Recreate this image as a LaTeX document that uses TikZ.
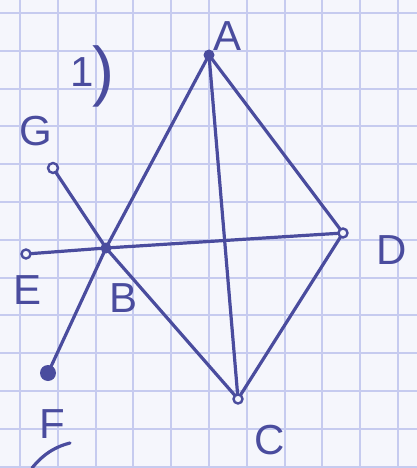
\documentclass[tikz,border=0pt]{standalone}
\usepackage{fontspec}
\setmainfont{Liberation Sans}
\definecolor{paper}{HTML}{F5F6FC}
\definecolor{gridc}{HTML}{C6CBEF}
\definecolor{pen}{HTML}{4A4C9E}
\begin{document}
\begin{tikzpicture}[x=1pt,y=-1pt,
  edge/.style={pen,line width=3.2pt,line cap=round},
  opendot/.style={circle,draw=pen,line width=2.4pt,fill=paper,inner sep=0pt,minimum size=8pt},
  fulldot/.style={circle,fill=pen,inner sep=0pt,minimum size=8pt},
  lbl/.style={text=pen,font=\fontsize{42}{42}\selectfont,inner sep=0pt}]
\fill[paper] (0,0) rectangle (417,468);
\useasboundingbox (0,0) rectangle (417,468);
\foreach \i in {0,...,10} \draw[gridc,line width=2pt] ({20+37.8*\i},0) -- ({20+37.8*\i},468);
\foreach \j in {0,...,12} \draw[gridc,line width=2pt] (0,{13+37.8*\j}) -- (417,{13+37.8*\j});
% points
\coordinate (A) at (209,55);
\coordinate (B) at (106,248);
\coordinate (C) at (238,399);
\coordinate (D) at (343,233);
\coordinate (E) at (26,254);
\coordinate (G) at (53,168);
\coordinate (F) at (48,373);
% edges
\draw[edge] (A) -- (B);
\draw[edge] (A) -- (C);
\draw[edge] (A) -- (D);
\draw[edge] (B) -- (D);
\draw[edge] (B) -- (C);
\draw[edge] (D) -- (C);
\draw[edge] (G) -- (B);
\draw[edge] (E) -- (B);
\draw[edge] (F) -- (B);
% dots
\node[fulldot,minimum size=11pt] (nA) at (A) {};
\node[fulldot,minimum size=11pt] (nB) at (B) {};
\node[opendot,minimum size=9pt] (nC) at (C) {};
\node[opendot,minimum size=9pt] (nD) at (D) {};
\node[opendot,minimum size=9pt] (nE) at (E) {};
\node[opendot,minimum size=10pt] (nG) at (G) {};
\node[fulldot,minimum size=16pt] (nF) at (F) {};
% labels
\node[lbl] (lA) at (228,36) {A};
\node[lbl] (lB) at (124,298) {B};
\node[lbl] (lC) at (270,440) {C};
\node[lbl] (lD) at (392,250) {D};
\node[lbl] (lE) at (28,290) {E};
\node[lbl] (lG) at (36,131) {G};
\node[lbl] (lF) at (52,424) {F};
\node[lbl] (l1) at (82,72) {1};
\node[lbl,font=\fontsize{66}{66}\selectfont] (lp) at (103,76) {)};
\draw[edge] (32,468) .. controls (45,452) and (58,446) .. (70,443);
\end{tikzpicture}
\end{document}
